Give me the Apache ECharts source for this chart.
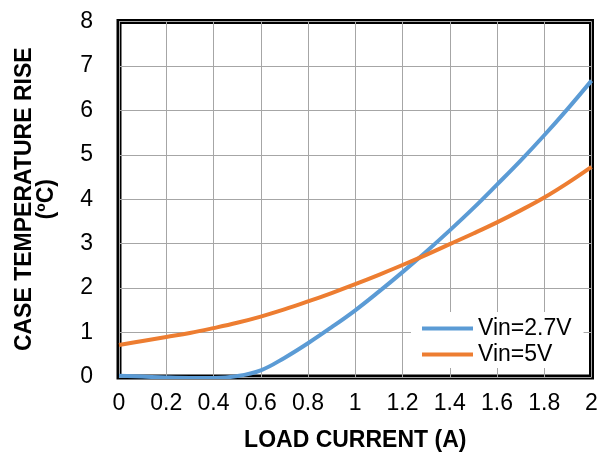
<!DOCTYPE html>
<html>
<head>
<meta charset="utf-8">
<script src="https://cdn.jsdelivr.net/npm/echarts@6/dist/echarts.min.js"></script>
<style>
html,body{margin:0;padding:0;background:#fff;}
#chart{width:603px;height:452px;}
</style>
</head>
<body>
<div id="chart"></div>
<script>
var loadCurrent = [0, 0.1, 0.2, 0.3, 0.4, 0.5, 0.6, 0.7, 0.8, 0.9, 1.0, 1.1, 1.2, 1.3, 1.4, 1.5, 1.6, 1.7, 1.8, 1.9, 2.0];
var rise27V = [0.03, 0.01, -0.01, -0.02, -0.02, 0.02, 0.15, 0.43, 0.76, 1.12, 1.5, 1.92, 2.36, 2.82, 3.3, 3.8, 4.33, 4.87, 5.44, 6.04, 6.67];
var rise5V = [0.72, 0.81, 0.9, 0.99, 1.1, 1.22, 1.36, 1.52, 1.7, 1.89, 2.09, 2.3, 2.52, 2.75, 2.99, 3.23, 3.48, 3.75, 4.04, 4.37, 4.73];
var seriesNames = ['Vin=2.7V', 'Vin=5V'];
var xAxisTitle = 'LOAD CURRENT (A)';
var yAxisTitle = 'CASE TEMPERATURE RISE\n(ºC)';

function pairs(xs, ys) { return xs.map(function (x, i) { return [x, ys[i]]; }); }

var font = 'Liberation Sans, Arial, sans-serif';
var chart = echarts.init(document.getElementById('chart'), null, {renderer: 'canvas'});
chart.setOption({
  animation: false,
  grid: {left: 119, right: 11.5, top: 21.5, bottom: 75, show: true, borderColor: '#000', borderWidth: 5,
         backgroundColor: 'transparent', containLabel: false, outerBoundsMode: 'none'},
  legend: {
    orient: 'vertical', left: 411, top: 312, padding: [5, 12, 2, 11],
    backgroundColor: '#fff', itemGap: 3, itemWidth: 51, itemHeight: 4, icon: 'rect',
    textStyle: {fontFamily: font, fontSize: 23, color: '#000', padding: [0, 0, 0, 0]},
    data: seriesNames
  },
  xAxis: {
    type: 'value', min: 0, max: 2, interval: 0.2,
    name: xAxisTitle, nameLocation: 'middle', nameGap: 52,
    nameTextStyle: {fontFamily: font, fontSize: 23, fontWeight: 'bold', color: '#000'},
    axisLine: {show: false}, axisTick: {show: false},
    axisLabel: {margin: 15, fontFamily: font, fontSize: 23, color: '#000'},
    splitLine: {show: true, lineStyle: {color: '#A6A6A6', width: 1}}
  },
  yAxis: {
    type: 'value', min: 0, max: 8, interval: 1,
    name: yAxisTitle, nameLocation: 'middle', nameGap: 61, nameRotate: 90,
    nameTextStyle: {fontFamily: font, fontSize: 23, fontWeight: 'bold', color: '#000', lineHeight: 22, align: 'center'},
    axisLine: {show: false}, axisTick: {show: false},
    axisLabel: {margin: 26, fontFamily: font, fontSize: 23, color: '#000'},
    splitLine: {show: true, lineStyle: {color: '#A6A6A6', width: 1}}
  },
  series: [
    {name: seriesNames[0], type: 'line', smooth: 0.4, showSymbol: false, data: pairs(loadCurrent, rise27V),
     lineStyle: {color: '#5B9BD5', width: 4}, itemStyle: {color: '#5B9BD5'}},
    {name: seriesNames[1], type: 'line', smooth: 0.4, showSymbol: false, data: pairs(loadCurrent, rise5V),
     lineStyle: {color: '#ED7D31', width: 4}, itemStyle: {color: '#ED7D31'}}
  ]
});
</script>
</body>
</html>
